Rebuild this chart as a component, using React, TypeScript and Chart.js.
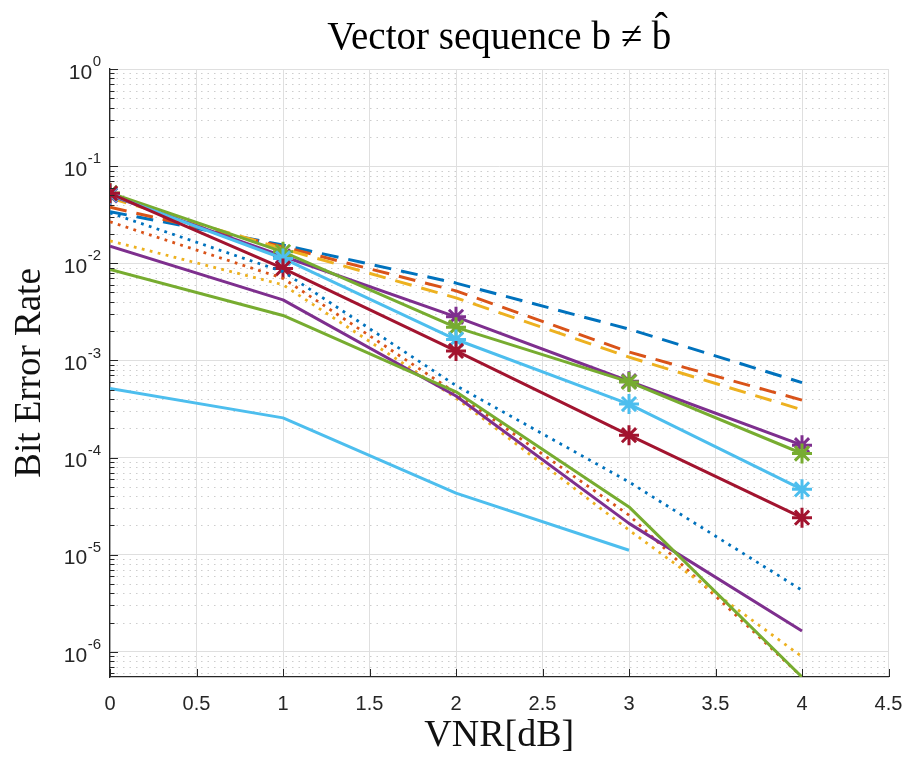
import React, { useEffect, useRef } from 'react';
import { Chart, registerables } from 'chart.js';

Chart.register(...registerables);

// ---------- data ----------
const vnr = [0, 1, 2, 3, 4];

const dashBlue = [0.034, 0.0154, 0.00625, 0.0021, 0.00059];
const dashOrange = [0.0377, 0.0148, 0.0052, 0.00122, 0.00039];
const dashYellow = [0.047, 0.0141, 0.0044, 0.00108, 0.00031];
const starPurple = [0.05, 0.0118, 0.00281, 0.00061, 0.000134];
const starGreen = [0.053, 0.0131, 0.00219, 0.0006, 0.00011];
const starLightBlue = [0.051, 0.0112, 0.00164, 0.000355, 0.000047];
const starRed = [0.0525, 0.00885, 0.00125, 0.00017, 0.000024];
const dotBlue = [0.033, 0.0082, 0.00055, 0.000056, 0.0000043];
const dotOrange = [0.0267, 0.007, 0.00046, 0.0000255, 0.00000055];
const dotYellow = [0.017, 0.006, 0.00041, 0.0000179, 0.00000089];
const solidPurple = [0.015, 0.0042, 0.00043, 0.000021, 0.00000164];
const solidGreen = [0.00865, 0.0029, 0.000475, 0.000031, 0.00000055];
const solidLightBlue = [0.000515, 0.000256, 0.000043, 0.0000111, null];

const xTicks = [0, 0.5, 1, 1.5, 2, 2.5, 3, 3.5, 4, 4.5];
const yTickExponents = [-6, -5, -4, -3, -2, -1, 0];
const X_MIN = 0;
const X_MAX = 4.5;
const Y_MIN = 5.5e-7;
const Y_MAX = 1;

const TITLE = 'Vector sequence b \u2260 b\u0302';
const X_LABEL = 'VNR[dB]';
const Y_LABEL = 'Bit Error Rate';

// ---------- styles ----------
const C = {
  blue: '#0072BD',
  orange: '#D95319',
  yellow: '#EDB120',
  purple: '#7E2F8E',
  green: '#77AC30',
  lightBlue: '#4DBEEE',
  red: '#A2142F',
};

type Style = 'dash' | 'dot' | 'solid' | 'star';
const series: { values: (number | null)[]; color: string; style: Style }[] = [
  { values: dashBlue, color: C.blue, style: 'dash' },
  { values: dashOrange, color: C.orange, style: 'dash' },
  { values: dashYellow, color: C.yellow, style: 'dash' },
  { values: starPurple, color: C.purple, style: 'star' },
  { values: starGreen, color: C.green, style: 'star' },
  { values: starLightBlue, color: C.lightBlue, style: 'star' },
  { values: starRed, color: C.red, style: 'star' },
  { values: dotBlue, color: C.blue, style: 'dot' },
  { values: dotOrange, color: C.orange, style: 'dot' },
  { values: dotYellow, color: C.yellow, style: 'dot' },
  { values: solidPurple, color: C.purple, style: 'solid' },
  { values: solidGreen, color: C.green, style: 'solid' },
  { values: solidLightBlue, color: C.lightBlue, style: 'solid' },
];

const AXIS_COLOR = '#262626';
const SANS = "'Liberation Sans', Arial, 'DejaVu Sans', sans-serif";
const SERIF = "'Liberation Serif', 'Times New Roman', serif";

const matlabAxes = {
  id: 'matlabAxes',
  beforeDatasetsDraw(chart: any) {
    const { ctx, chartArea: a, scales } = chart;
    const y = scales.y;
    ctx.save();
    ctx.strokeStyle = '#cdcdcd';
    ctx.lineWidth = 1;
    ctx.setLineDash([1.5, 5]);
    for (let e = -7; e <= 0; e++) {
      for (let k = 2; k <= 9; k++) {
        const v = k * Math.pow(10, e);
        if (v < Y_MIN || v > Y_MAX) continue;
        const py = Math.round(y.getPixelForValue(v)) + 0.5;
        ctx.beginPath();
        ctx.moveTo(a.left, py);
        ctx.lineTo(a.right, py);
        ctx.stroke();
      }
    }
    ctx.restore();
  },
  afterDraw(chart: any) {
    const { ctx, chartArea: a, scales } = chart;
    const { x, y } = scales;
    ctx.save();
    // inward tick marks
    ctx.strokeStyle = AXIS_COLOR;
    ctx.lineWidth = 1;
    ctx.beginPath();
    for (const t of xTicks) {
      const px = Math.round(x.getPixelForValue(t)) + 0.5;
      ctx.moveTo(px, a.bottom);
      ctx.lineTo(px, a.bottom - 8);
    }
    for (let e = -7; e <= 0; e++) {
      for (let k = 1; k <= 9; k++) {
        const v = k * Math.pow(10, e);
        if (v < Y_MIN || v > Y_MAX) continue;
        const py = Math.round(y.getPixelForValue(v)) + 0.5;
        ctx.moveTo(a.left, py);
        ctx.lineTo(a.left + (k === 1 ? 8 : 4.5), py);
      }
    }
    ctx.stroke();
    // y tick labels: 10 with raised exponent
    ctx.fillStyle = AXIS_COLOR;
    ctx.textBaseline = 'middle';
    ctx.textAlign = 'right';
    const right = a.left - 9;
    for (const e of yTickExponents) {
      const py = y.getPixelForValue(Math.pow(10, e));
      const exp = String(e);
      ctx.font = `15px ${SANS}`;
      const ew = ctx.measureText(exp).width;
      ctx.fillText(exp, right, py - 7);
      ctx.font = `21px ${SANS}`;
      ctx.fillText('10', right - ew - 0.5, py + 4);
    }
    ctx.restore();
  },
};

export default function App() {
  const ref = useRef<HTMLCanvasElement | null>(null);

  useEffect(() => {
    if (!ref.current) return;
    const datasets = series.map((s, i) => {
      const base: any = {
        data: vnr.map((x, j) => ({ x, y: s.values[j] })),
        borderColor: s.color,
        backgroundColor: s.color,
        borderWidth: 3,
        borderCapStyle: 'butt',
        borderJoinStyle: 'round',
        tension: 0,
        fill: false,
        order: -i,
        pointRadius: 0,
        pointHoverRadius: 0,
      };
      if (s.style === 'dash') base.borderDash = [17, 10];
      if (s.style === 'dot') {
        base.borderDash = [2.8, 5.4];
        base.borderWidth = 2.8;
      }
      if (s.style === 'star') {
        base.pointStyle = 'star';
        base.pointRadius = 10;
        base.pointBorderWidth = 3;
        base.pointBorderColor = s.color;
        base.pointBackgroundColor = s.color;
      }
      return base;
    });

    const chart = new Chart(ref.current, {
      type: 'line',
      data: { datasets },
      plugins: [matlabAxes],
      options: {
        responsive: false,
        animation: false,
        devicePixelRatio: 1,
        layout: { padding: { left: 0, right: 18.5, top: 0, bottom: 0 } },
        plugins: {
          legend: { display: false },
          tooltip: { enabled: false },
          title: {
            display: true,
            text: TITLE,
            fullSize: false,
            color: '#000',
            font: { family: SERIF, size: 39, weight: 'normal', lineHeight: 1.2 },
            padding: { top: 15, bottom: 7.2 },
          },
        },
        scales: {
          x: {
            type: 'linear',
            min: X_MIN,
            max: X_MAX,
            afterBuildTicks: (s: any) => {
              s.ticks = xTicks.map((value) => ({ value }));
            },
            afterFit: (s: any) => {
              s.height = 80;
              s.paddingLeft = 0;
              s.paddingRight = 0;
            },
            ticks: {
              callback: (v: any) => String(v),
              color: AXIS_COLOR,
              font: { family: SANS, size: 20 },
              padding: 15,
              maxRotation: 0,
              autoSkip: false,
            },
            grid: { color: '#dfdfdf', lineWidth: 1, drawTicks: false },
            border: { color: AXIS_COLOR, width: 1.3 },
            title: {
              display: true,
              text: X_LABEL,
              color: '#111',
              font: { family: SERIF, size: 38, weight: 'normal', lineHeight: 0.6 },
              padding: { top: 0, bottom: 10 },
            },
          },
          y: {
            type: 'logarithmic',
            min: Y_MIN,
            max: Y_MAX,
            afterBuildTicks: (s: any) => {
              s.ticks = yTickExponents.map((e) => ({ value: Math.pow(10, e) }));
            },
            afterFit: (s: any) => {
              s.width = 110;
              s.paddingTop = 0;
              s.paddingBottom = 0;
            },
            ticks: { display: false },
            grid: { color: '#dfdfdf', lineWidth: 1, drawTicks: false },
            border: { color: AXIS_COLOR, width: 1.3 },
            title: {
              display: true,
              text: Y_LABEL,
              color: '#111',
              font: { family: SERIF, size: 37, weight: 'normal', lineHeight: 1.2 },
              padding: { top: 8, bottom: 0 },
            },
          },
        },
      } as any,
    });
    return () => chart.destroy();
  }, []);

  return (
    <div style={{ position: 'absolute', left: 0, top: 0, width: 907, height: 757 }}>
      <canvas ref={ref} width={907} height={757} />
    </div>
  );
}
